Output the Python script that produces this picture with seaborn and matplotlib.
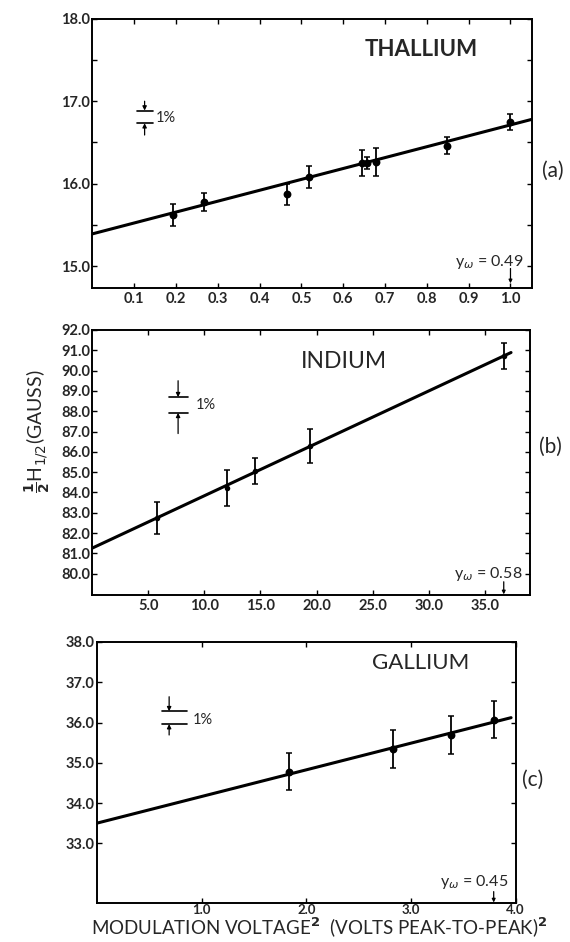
import matplotlib
matplotlib.use("Agg")
import numpy as np
import pandas as pd
import seaborn as sns
import matplotlib.pyplot as plt
from matplotlib.ticker import FixedLocator, MultipleLocator

# ---------------- data ----------------
# (a) Thallium
tl_x = [0.194, 0.266, 0.465, 0.518, 0.644, 0.658, 0.679, 0.849, 1.0]
tl_y = [15.62, 15.78, 15.87, 16.08, 16.25, 16.25, 16.26, 16.46, 16.75]
tl_err = [0.13, 0.11, 0.13, 0.13, 0.16, 0.07, 0.17, 0.10, 0.095]
tl_fit_x = [0.0, 1.051]
tl_fit_y = [15.39, 16.78]
tl_xticks = [0.1, 0.2, 0.3, 0.4, 0.5, 0.6, 0.7, 0.8, 0.9, 1.0]
tl_xlabels = ["0.1", "0.2", "0.3", "0.4", "0.5", "0.6", "0.7", "0.8", "0.9", "1.0"]
tl_yticks = [15.0, 16.0, 17.0, 18.0]
tl_ylabels = ["15.0", "16.0", "17.0", "18.0"]

# (b) Indium
in_x = [5.8, 12.0, 14.5, 19.4, 36.7]
in_y = [82.73, 84.21, 85.06, 86.29, 90.72]
in_err = [0.8, 0.9, 0.65, 0.83, 0.64]
in_fit_x = [0.0, 37.35]
in_fit_y = [81.26, 90.89]
in_xticks = [5.0, 10.0, 15.0, 20.0, 25.0, 30.0, 35.0]
in_xlabels = ["5.0", "10.0", "15.0", "20.0", "25.0", "30.0", "35.0"]
in_yticks = [80.0, 81.0, 82.0, 83.0, 84.0, 85.0, 86.0, 87.0, 88.0, 89.0, 90.0, 91.0, 92.0]
in_ylabels = ["80.0", "81.0", "82.0", "83.0", "84.0", "85.0", "86.0", "87.0",
              "88.0", "89.0", "90.0", "91.0", "92.0"]

# (c) Gallium
ga_x = [1.835, 2.83, 3.386, 3.79]
ga_y = [34.78, 35.34, 35.70, 36.07]
ga_err = [0.46, 0.48, 0.47, 0.46]
ga_fit_x = [0.0, 3.956]
ga_fit_y = [33.50, 36.12]
ga_xticks = [1.0, 2.0, 3.0, 4.0]
ga_xlabels = ["1.0", "2.0", "3.0", "4.0"]
ga_yticks = [33.0, 34.0, 35.0, 36.0, 37.0, 38.0]
ga_ylabels = ["33.0", "34.0", "35.0", "36.0", "37.0", "38.0"]

# ---------------- style ----------------
sns.set_theme(style="ticks")
plt.rcParams["font.family"] = ["Lato", "DejaVu Sans"]
plt.rcParams["mathtext.fontset"] = "dejavusans"

fig = plt.figure(figsize=(5.7, 9.42), dpi=100)
fig.patch.set_facecolor("white")

ax_a = fig.add_axes([0.162, 0.694, 0.771, 0.286])
ax_b = fig.add_axes([0.162, 0.3684, 0.767, 0.2813])
ax_c = fig.add_axes([0.170, 0.0411, 0.736, 0.2774])


def style_axes(ax, xticks, xlabels, yticks, ylabels, xlim, ylim, yminor=None, xsize=10.5):
    ax.set_xlim(*xlim)
    ax.set_ylim(*ylim)
    ax.xaxis.set_major_locator(FixedLocator(xticks))
    ax.set_xticklabels(xlabels, fontsize=xsize, fontweight="bold")
    ax.yaxis.set_major_locator(FixedLocator(yticks))
    ax.set_yticklabels(ylabels, fontsize=10.5, fontweight="bold")
    if yminor is not None:
        ax.yaxis.set_minor_locator(MultipleLocator(yminor))
    ax.tick_params(which="both", direction="in", top=True, right=True,
                   length=3.5, width=1.0, color="black")
    ax.tick_params(axis="x", pad=3)
    ax.tick_params(axis="y", pad=1.5)
    for s in ax.spines.values():
        s.set_linewidth(1.4)
        s.set_color("black")
    ax.set_facecolor("white")
    ax.set_xlabel("")
    ax.set_ylabel("")


def draw_series(ax, x, y, err, fx, fy, ms=30):
    fit = pd.DataFrame({"x": fx, "y": fy})
    sns.lineplot(data=fit, x="x", y="y", ax=ax, color="black", linewidth=2.2)
    pts = pd.DataFrame({"x": x, "y": y, "err": err})
    ax.errorbar(pts["x"], pts["y"], yerr=pts["err"], fmt="none", ecolor="black",
                elinewidth=1.3, capsize=2.0, capthick=1.1)
    sns.scatterplot(data=pts, x="x", y="y", ax=ax, color="black", s=ms,
                    edgecolor="black", linewidth=0, zorder=5)


def arrow(ax, x, y0, y1, ms=6):
    ax.annotate("", xy=(x, y1), xytext=(x, y0),
                arrowprops=dict(arrowstyle="-|>", color="black", lw=0.9,
                                mutation_scale=ms, shrinkA=0, shrinkB=0))


def one_percent(ax, x0, x1, yb1, yb2, xa, ya_top, ya_bot, xt, yt):
    ax.plot([x0, x1], [yb1, yb1], color="black", lw=1.2)
    ax.plot([x0, x1], [yb2, yb2], color="black", lw=1.2)
    arrow(ax, xa, ya_top, yb1)
    arrow(ax, xa, ya_bot, yb2)
    ax.text(xt, yt, "1%", fontsize=10.5, va="center", ha="left")


# ---------------- (a) ----------------
draw_series(ax_a, tl_x, tl_y, tl_err, tl_fit_x, tl_fit_y, ms=32)
style_axes(ax_a, tl_xticks, tl_xlabels, tl_yticks, tl_ylabels,
           (0.0, 1.051), (14.73, 18.0), yminor=0.5)
ax_a.text(0.786, 17.63, "THALLIUM", fontsize=16, fontweight="bold",
          ha="center", va="center")
one_percent(ax_a, 0.106, 0.144, 16.887, 16.733, 0.125, 17.0, 16.59, 0.152, 16.80)
ax_a.text(0.95, 15.05, r"y$_\omega$ = 0.49", fontsize=11.5, ha="center", va="center")
arrow(ax_a, 1.0, 14.97, 14.79, ms=5)

# ---------------- (b) ----------------
draw_series(ax_b, in_x, in_y, in_err, in_fit_x, in_fit_y, ms=16)
style_axes(ax_b, in_xticks, in_xlabels, in_yticks, in_ylabels,
           (0.0, 39.0), (78.95, 92.0))
ax_b.text(22.4, 90.45, "INDIUM", fontsize=16.5, ha="center", va="center")
one_percent(ax_b, 6.8, 8.5, 88.69, 87.92, 7.65, 89.5, 86.9, 9.2, 88.3)
ax_b.text(35.3, 80.0, r"y$_\omega$ = 0.58", fontsize=11.5, ha="center", va="center")
arrow(ax_b, 36.7, 79.6, 78.98, ms=5)

# ---------------- (c) ----------------
draw_series(ax_c, ga_x, ga_y, ga_err, ga_fit_x, ga_fit_y, ms=32)
style_axes(ax_c, ga_xticks, ga_xlabels, ga_yticks, ga_ylabels,
           (0.0, 4.007), (31.51, 38.0), xsize=9.5)
ax_c.tick_params(axis="x", pad=0.5)
ax_c.text(3.09, 37.48, "GALLIUM", fontsize=16, ha="center", va="center")
one_percent(ax_c, 0.625, 0.863, 36.28, 35.96, 0.69, 36.64, 35.69, 0.915, 36.07)
ax_c.text(3.6, 32.05, r"y$_\omega$ = 0.45", fontsize=11.5, ha="center", va="center")
arrow(ax_c, 3.79, 31.8, 31.53, ms=5)

# ---------------- labels ----------------
fig.text(0.969, 0.8185, "(a)", fontsize=15, ha="center", va="center")
fig.text(0.965, 0.526, "(b)", fontsize=15, ha="center", va="center")
fig.text(0.935, 0.172, "(c)", fontsize=15, ha="center", va="center")

fig.text(0.066, 0.5425, r"$\mathbf{\frac{1}{2}}$H$_{1/2}$(GAUSS)", fontsize=14,
         rotation=90, ha="center", va="center")
fig.text(0.56, 0.0075, r"MODULATION VOLTAGE$^{\mathbf{2}}$  (VOLTS PEAK-TO-PEAK)$^{\mathbf{2}}$",
         fontsize=13.5, ha="center", va="baseline")

fig.savefig("out.png", dpi=100, facecolor="white")
